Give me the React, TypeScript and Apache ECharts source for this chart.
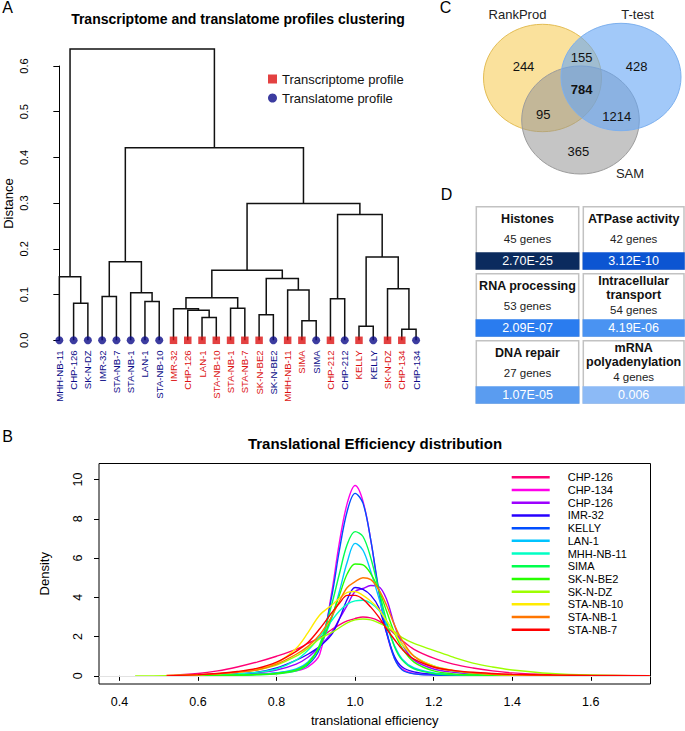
import React, { useEffect, useRef } from "react";
import * as echarts from "echarts";

// ---------------- Panel A: hierarchical clustering ----------------
const leafNames = [
  "MHH-NB-11", "CHP-126", "SK-N-DZ", "IMR-32", "STA-NB-7", "STA-NB-1", "LAN-1", "STA-NB-10",
  "IMR-32", "CHP-126", "LAN-1", "STA-NB-10", "STA-NB-1", "STA-NB-7", "SK-N-BE2", "SK-N-BE2",
  "MHH-NB-11", "SIMA", "SIMA", "CHP-212", "CHP-212", "KELLY", "KELLY", "SK-N-DZ", "CHP-134", "CHP-134",
];
// T = transcriptome profile, L = translatome profile
const leafProfiles = [
  "L", "L", "L", "L", "L", "L", "L", "L",
  "T", "T", "T", "T", "T", "T", "T", "L",
  "T", "T", "L", "T", "L", "T", "L", "T", "T", "L",
];
// hclust-style merges: negative = leaf (1-based position), positive = earlier merge (1-based)
const mergeLeft = [-2, -1, -4, -7, -6, 3, -11, -10, -9, -13, 9, -15, -18, -17, 12, 11, -20, -22, -25, -24, 18, 17, 16, 6, 2];
const mergeRight = [-3, 1, -5, -8, 4, 5, -12, 7, 8, -14, 10, -16, -19, 13, 14, 15, -21, -23, -26, 19, 20, 21, 22, 23, 24];
const mergeHeight = [0.081, 0.139, 0.096, 0.085, 0.104, 0.172, 0.05, 0.066, 0.069, 0.07, 0.093, 0.056, 0.043, 0.11, 0.135, 0.153, 0.091, 0.031, 0.024, 0.113, 0.182, 0.275, 0.299, 0.421, 0.637];
const profileNames = ["Transcriptome profile", "Translatome profile"];

// ---------------- Panel B: translational efficiency density ----------------
const teGrid = [0.44, 0.52, 0.6, 0.65, 0.7, 0.75, 0.8, 0.85, 0.88, 0.91, 0.94, 0.96, 0.98, 1.0, 1.02, 1.04, 1.06, 1.08, 1.1, 1.12, 1.15, 1.2, 1.25, 1.3, 1.35, 1.4, 1.5, 1.6, 1.75];
const densCHP126 = [null, 0.02, 0.12, 0.25, 0.45, 0.7, 1.0, 1.35, 1.65, 1.95, 2.35, 2.6, 2.8, 2.92, 3.0, 2.95, 2.8, 2.5, 2.15, 1.8, 1.35, 0.9, 0.6, 0.4, 0.25, 0.15, 0.06, 0.02, 0.0];
const densCHP134 = [null, 0.0, 0.02, 0.03, 0.05, 0.08, 0.12, 0.25, 0.45, 1.1, 4.2, 6.8, 8.8, 9.7, 8.9, 6.9, 4.3, 2.2, 0.9, 0.35, 0.12, 0.05, 0.03, 0.02, 0.01, 0.0, 0.0, 0.0, 0.0];
const densCHP126b = [null, 0.0, 0.03, 0.06, 0.1, 0.16, 0.3, 0.6, 0.95, 1.5, 2.2, 2.9, 3.6, 4.3, 4.45, 4.6, 4.55, 3.9, 2.6, 1.6, 0.8, 0.35, 0.18, 0.1, 0.05, 0.03, 0.01, 0.0, 0.0];
const densIMR32 = [null, 0.0, 0.03, 0.06, 0.1, 0.18, 0.4, 0.8, 1.1, 1.5, 2.1, 2.9, 3.9, 4.5, 4.4, 4.1, 3.5, 2.2, 1.0, 0.45, 0.2, 0.08, 0.04, 0.02, 0.01, 0.0, 0.0, 0.0, 0.0];
const densKELLY = [null, 0.0, 0.02, 0.03, 0.05, 0.08, 0.15, 0.3, 0.55, 1.4, 4.0, 6.4, 8.4, 9.3, 8.8, 6.9, 4.4, 2.3, 0.9, 0.3, 0.1, 0.04, 0.02, 0.01, 0.0, 0.0, 0.0, 0.0, 0.0];
const densLAN1 = [null, 0.0, 0.02, 0.03, 0.05, 0.08, 0.15, 0.35, 0.7, 1.5, 2.9, 4.3, 5.8, 6.75, 6.4, 5.3, 4.0, 2.6, 1.55, 0.85, 0.4, 0.15, 0.07, 0.04, 0.02, 0.01, 0.0, 0.0, 0.0];
const densMHHNB11 = [null, 0.0, 0.03, 0.06, 0.1, 0.18, 0.35, 0.8, 1.3, 2.0, 2.8, 3.3, 3.65, 3.82, 3.85, 3.7, 3.35, 2.8, 2.2, 1.6, 1.0, 0.5, 0.25, 0.12, 0.06, 0.03, 0.01, 0.0, 0.0];
const densSIMA = [null, 0.0, 0.01, 0.02, 0.03, 0.05, 0.1, 0.25, 0.6, 1.6, 3.6, 5.2, 6.7, 7.35, 7.1, 6.0, 4.4, 2.8, 1.5, 0.8, 0.35, 0.12, 0.05, 0.03, 0.01, 0.0, 0.0, 0.0, 0.0];
const densSKNBE2 = [null, 0.0, 0.01, 0.02, 0.04, 0.07, 0.12, 0.3, 0.65, 1.5, 3.0, 4.1, 5.2, 5.7, 5.65, 5.2, 4.4, 3.3, 2.2, 1.4, 0.7, 0.25, 0.1, 0.05, 0.02, 0.01, 0.0, 0.0, 0.0];
const densSKNDZ = [0.0, 0.01, 0.05, 0.1, 0.18, 0.3, 0.55, 1.0, 1.4, 1.9, 2.2, 2.45, 2.7, 2.85, 2.9, 2.85, 2.7, 2.5, 2.25, 1.95, 1.65, 1.3, 0.95, 0.65, 0.45, 0.3, 0.12, 0.04, 0.0];
const densSTANB10 = [null, 0.02, 0.06, 0.12, 0.2, 0.35, 0.65, 1.4, 2.2, 3.1, 3.6, 3.95, 4.25, 4.3, 4.1, 3.8, 3.4, 2.8, 2.2, 1.6, 1.0, 0.5, 0.28, 0.15, 0.08, 0.04, 0.01, 0.0, 0.0];
const densSTANB1 = [null, 0.0, 0.05, 0.1, 0.18, 0.3, 0.6, 1.1, 1.5, 2.1, 3.0, 3.8, 4.5, 4.8, 5.0, 4.9, 4.4, 3.6, 2.6, 1.8, 1.0, 0.45, 0.25, 0.14, 0.08, 0.05, 0.02, 0.01, 0.0];
const densSTANB7 = [null, 0.0, 0.06, 0.12, 0.22, 0.38, 0.7, 1.25, 1.7, 2.4, 3.2, 3.7, 4.1, 4.1, 3.9, 3.5, 3.0, 2.4, 1.85, 1.35, 0.85, 0.45, 0.28, 0.18, 0.12, 0.08, 0.04, 0.02, 0.01];
const densityLabels = ["CHP-126", "CHP-134", "CHP-126", "IMR-32", "KELLY", "LAN-1", "MHH-NB-11", "SIMA", "SK-N-BE2", "SK-N-DZ", "STA-NB-10", "STA-NB-1", "STA-NB-7"];
const densityValues = [densCHP126, densCHP134, densCHP126b, densIMR32, densKELLY, densLAN1, densMHHNB11, densSIMA, densSKNBE2, densSKNDZ, densSTANB10, densSTANB1, densSTANB7];
const teTicks = [0.4, 0.6, 0.8, 1.0, 1.2, 1.4, 1.6];
const densityTicks = [0, 2, 4, 6, 8, 10];

// ---------------- Panel C: Venn diagram ----------------
const vennSets = ["RankProd", "T-test", "SAM"];
// regions: RankProd only, RankProd∩T-test, T-test only, all three, RankProd∩SAM, T-test∩SAM, SAM only
const vennCounts = [244, 155, 428, 784, 95, 1214, 365];

// ---------------- Panel D: enriched terms ----------------
const goTerms = ["Histones", "ATPase activity", "RNA processing", "Intracellular\ntransport", "DNA repair", "mRNA\npolyadenylation"];
const goGeneCounts = [45, 42, 53, 54, 27, 4];
const goPValues = ["2.70E-25", "3.12E-10", "2.09E-07", "4.19E-06", "1.07E-05", "0.006"];

// ---------------- styles / layout ----------------
const FONT = "'Liberation Sans', Arial, Helvetica, sans-serif";
const RED = "#DC1111";
const NAVY = "#0B0B88";
const densityColors = ["#FF0076", "#FF00EB", "#9D00FF", "#2700FF", "#004EFF", "#00C4FF", "#00FFC4", "#00FF4E", "#27FF00", "#9DFF00", "#FFEB00", "#FF7600", "#FF0000"];
const goBarColors = ["#0b2b5e", "#0c55d2", "#2a7cef", "#4a93f2", "#5a9cf0", "#8cbaf6"];
const vennEllipses = [
  { cx: 542.5, cy: 78, rx: 59, ry: 53.7, fill: "rgba(246,205,90,0.6)", stroke: "#E3BD55", z: 1 },
  { cx: 621, cy: 77, rx: 60, ry: 53.7, fill: "rgba(100,165,245,0.6)", stroke: "#7DB0EE", z: 3 },
  { cx: 580.5, cy: 120, rx: 58.8, ry: 54, fill: "rgba(150,150,150,0.55)", stroke: "#9C9C9C", z: 2 },
];
const vennSetLabelPos = [[517.5, 14], [637.5, 14], [630, 173]];
const vennCountPos = [[523.5, 66], [581.7, 57.5], [636.7, 66], [581.7, 89.5], [543.3, 114.5], [616.7, 116], [578.3, 151.5]];

function buildDendrogram() {
  const nodeX: number[] = [];
  const links: number[][] = [];
  const pos = (ref: number) => (ref < 0 ? [-ref - 1, 0] : [nodeX[ref - 1], mergeHeight[ref - 1]]);
  mergeLeft.forEach((l, i) => {
    const a = pos(l);
    const b = pos(mergeRight[i]);
    nodeX[i] = (a[0] + b[0]) / 2;
    links.push([a[0], a[1], b[0], b[1], mergeHeight[i]]);
  });
  return links;
}

function buildGraphics() {
  const els: any[] = [];
  const txt = (text: string, x: number, y: number, size: number, opts: any = {}) => ({
    type: "text",
    x,
    y,
    z: 10,
    rotation: opts.rotation || 0,
    style: {
      text,
      fontSize: size,
      fontFamily: FONT,
      fontWeight: opts.bold ? "bold" : "normal",
      fill: opts.fill || "#000",
      align: opts.align || "center",
      textAlign: opts.align || "center",
      verticalAlign: "middle",
      textVerticalAlign: "middle",
    },
  });
  // panel letters
  [["A", 7.5, 7.5], ["B", 7.5, 436.5], ["C", 445.5, 7.5], ["D", 446.5, 194.5]].forEach((p) =>
    els.push(txt(p[0] as string, p[1] as number, p[2] as number, 16))
  );
  // titles
  els.push(txt("Transcriptome and translatome profiles clustering", 238, 19, 14, { bold: true }));
  els.push(txt("Translational Efficiency distribution", 375, 443, 15, { bold: true }));
  // dendrogram y-axis title
  els.push(txt("Distance", 8.5, 203.5, 13, { rotation: Math.PI / 2 }));

  // Venn
  vennEllipses.forEach((e) =>
    els.push({
      type: "ellipse",
      z: e.z,
      shape: { cx: e.cx, cy: e.cy, rx: e.rx, ry: e.ry },
      style: { fill: e.fill, stroke: e.stroke, lineWidth: 1 },
    })
  );
  vennSets.forEach((s, i) => els.push(txt(s, vennSetLabelPos[i][0], vennSetLabelPos[i][1], 13, { fill: "#222" })));
  vennCounts.forEach((c, i) =>
    els.push(txt(String(c), vennCountPos[i][0], vennCountPos[i][1], 13, { bold: i === 3, fill: "#111" }))
  );

  // Enrichment table
  const colX = [476.3, 583.3];
  const colW = [102.4, 100.7];
  goTerms.forEach((term, i) => {
    const c = i % 2;
    const r = Math.floor(i / 2);
    const x = colX[c];
    const w = colW[c];
    const top = 206.7 + r * 67;
    const cx = x + w / 2;
    els.push({
      type: "rect",
      z: 5,
      shape: { x, y: top, width: w, height: 62.3 },
      style: { fill: "#fff", stroke: "#c2c2c2", lineWidth: 1.5 },
    });
    els.push({
      type: "rect",
      z: 6,
      shape: { x: x - 0.75, y: top + 45.6, width: w + 1.5, height: 17.4 },
      style: { fill: goBarColors[i] },
    });
    const lines = term.split("\n");
    if (lines.length === 1) {
      els.push(txt(lines[0], cx, top + 12.5, 12.5, { bold: true, fill: "#111" }));
      els.push(txt(goGeneCounts[i] + " genes", cx, top + 31.8, 11.5, { fill: "#222" }));
    } else {
      els.push(txt(lines[0], cx, top + 7.3, 12.5, { bold: true, fill: "#111" }));
      els.push(txt(lines[1], cx, top + 21.5, 12.5, { bold: true, fill: "#111" }));
      els.push(txt(goGeneCounts[i] + " genes", cx, top + 36.3, 11.5, { fill: "#222" }));
    }
    els.push(txt(goPValues[i], cx, top + 54.6, 12.5, { fill: "#fff" }));
  });
  return els;
}

function buildOption() {
  const links = buildDendrogram();
  const leafPoints = (p: string) =>
    leafProfiles.map((lp, i) => (lp === p ? [i, 0] : null)).filter((v) => v !== null);

  const seen: Record<string, number> = {};
  const densitySeries = densityLabels.map((label, k) => {
    const n = seen[label] || 0;
    seen[label] = n + 1;
    const name = label + " ".repeat(n);
    const vals = densityValues[k];
    return {
      type: "line",
      name,
      xAxisIndex: 2,
      yAxisIndex: 1,
      data: teGrid.map((x, i) => (vals[i] == null ? null : [x, vals[i]])).filter((v) => v !== null),
      showSymbol: false,
      smooth: 0.35,
      lineStyle: { width: 1.4, color: densityColors[k] },
      itemStyle: { color: densityColors[k] },
      z: 3 + k * 0.01,
      ...(k === 0
        ? {
            markLine: {
              silent: true,
              symbol: "none",
              label: { show: false },
              lineStyle: { color: "#e2e2e2", type: "solid", width: 1 },
              data: [{ yAxis: 0 }],
            },
          }
        : {}),
    };
  });

  return {
    animation: false,
    backgroundColor: "#fff",
    textStyle: { fontFamily: FONT },
    grid: [
      { left: 52.2, right: 261.8, top: 66, bottom: 390.7, containLabel: false, outerBoundsMode: "none" },
      {
        left: 99,
        right: 34.5,
        top: 463.5,
        bottom: 47,
        show: true,
        borderColor: "#000",
        borderWidth: 1,
        containLabel: false,
        outerBoundsMode: "none",
      },
    ],
    legend: [
      {
        data: profileNames,
        orient: "vertical",
        left: 268,
        top: 72,
        padding: 0,
        itemWidth: 9,
        itemHeight: 9,
        itemGap: 5,
        selectedMode: false,
        textStyle: { fontSize: 13, color: "#111", lineHeight: 14, fontFamily: FONT },
      },
      {
        data: densitySeries.map((s) => s.name),
        orient: "vertical",
        left: 511.7,
        top: 471,
        padding: 0,
        icon: "rect",
        itemWidth: 38,
        itemHeight: 2.5,
        itemGap: 0,
        selectedMode: false,
        formatter: (n: string) => n.trim(),
        textStyle: { fontSize: 11, color: "#000", lineHeight: 12.7, padding: [0, 0, 0, 13], fontFamily: FONT },
      },
    ],
    xAxis: [
      {
        type: "category",
        gridIndex: 0,
        data: leafNames,
        axisLine: { show: false },
        axisTick: { show: false },
        axisLabel: {
          interval: 0,
          rotate: 90,
          margin: 10,
          fontSize: 9.6,
          fontFamily: FONT,
          color: (_v: any, i: number) => (leafProfiles[i] === "T" ? RED : NAVY),
        },
      },
      { type: "value", gridIndex: 0, min: -0.5, max: leafNames.length - 0.5, show: false },
      {
        type: "value",
        gridIndex: 1,
        min: 0.348,
        max: 1.752,
        name: "translational efficiency",
        nameLocation: "middle",
        nameGap: 30,
        nameTextStyle: { fontSize: 13, color: "#000", fontFamily: FONT },
        axisLine: { show: false },
        splitLine: { show: false },
        axisTick: { show: true, customValues: teTicks, length: 5, lineStyle: { color: "#000" } },
        axisLabel: {
          customValues: teTicks,
          fontSize: 12.5,
          color: "#000",
          margin: 11,
          fontFamily: FONT,
          formatter: (v: number) => v.toFixed(1),
        },
      },
    ],
    yAxis: [
      {
        type: "value",
        gridIndex: 0,
        min: 0,
        max: 0.6,
        interval: 0.1,
        offset: 12.2,
        axisLine: { show: true, lineStyle: { color: "#000", width: 1 } },
        axisTick: { show: true, length: 6, lineStyle: { color: "#000" } },
        splitLine: { show: false },
        axisLabel: {
          rotate: 90,
          fontSize: 11,
          color: "#000",
          margin: 11,
          fontFamily: FONT,
          formatter: (v: number) => v.toFixed(1),
        },
      },
      {
        type: "value",
        gridIndex: 1,
        min: -0.416,
        max: 10.82,
        name: "Density",
        nameLocation: "middle",
        nameRotate: 90,
        nameGap: 48,
        nameTextStyle: { fontSize: 13, color: "#000", fontFamily: FONT },
        axisLine: { show: false },
        splitLine: { show: false },
        axisTick: { show: true, customValues: densityTicks, length: 5, lineStyle: { color: "#000" } },
        axisLabel: { customValues: densityTicks, rotate: 90, fontSize: 12.5, color: "#000", margin: 15, fontFamily: FONT },
      },
    ],
    series: [
      {
        type: "custom",
        name: "dendrogram",
        xAxisIndex: 1,
        yAxisIndex: 0,
        clip: false,
        silent: true,
        z: 2,
        encode: { x: [0, 2], y: [1, 3, 4] },
        data: links,
        renderItem: (_p: any, api: any) => {
          const a = api.coord([api.value(0), api.value(1)]);
          const b = api.coord([api.value(0), api.value(4)]);
          const c = api.coord([api.value(2), api.value(4)]);
          const d = api.coord([api.value(2), api.value(3)]);
          return {
            type: "polyline",
            shape: { points: [a, b, c, d] },
            style: { stroke: "#111", lineWidth: 1.5, fill: null },
          };
        },
      },
      {
        type: "scatter",
        name: profileNames[0],
        xAxisIndex: 1,
        yAxisIndex: 0,
        symbol: "rect",
        symbolSize: 7.5,
        clip: false,
        z: 4,
        itemStyle: { color: RED },
        data: leafPoints("T"),
      },
      {
        type: "scatter",
        name: profileNames[1],
        xAxisIndex: 1,
        yAxisIndex: 0,
        symbol: "circle",
        symbolSize: 8,
        clip: false,
        z: 4,
        itemStyle: { color: NAVY },
        data: leafPoints("L"),
      },
      ...densitySeries,
    ],
    graphic: { elements: buildGraphics() },
  };
}

export default function App() {
  const ref = useRef<HTMLDivElement>(null);
  useEffect(() => {
    if (!ref.current) return;
    const chart = echarts.init(ref.current, null, { renderer: "svg" });
    chart.setOption(buildOption() as any);
    return () => chart.dispose();
  }, []);
  return (
    <div
      ref={ref}
      style={{ position: "absolute", left: 0, top: 0, width: 685, height: 731, background: "#fff" }}
    />
  );
}
